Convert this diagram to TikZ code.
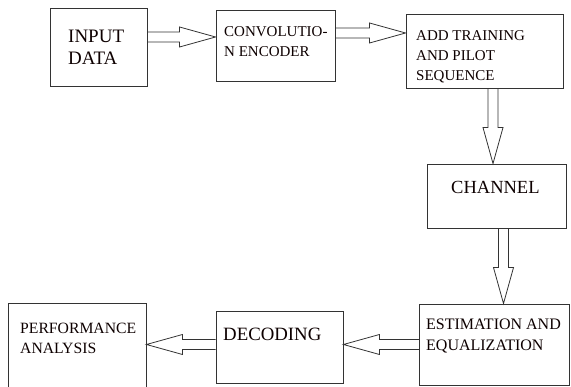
\documentclass[tikz,border=0pt]{standalone}
\usepackage{fontspec}
\setmainfont{Liberation Serif}
\usetikzlibrary{calc}

\newcommand{\shaftw}{5pt}
\newcommand{\headw}{10pt}
\newcommand{\headl}{36pt}

\begin{document}
\begin{tikzpicture}[
    x=1pt, y=-1pt,
    box/.style 2 args={draw=black!80, line width=0.9pt, inner sep=0pt, minimum width=#1, minimum height=#2},
    lbl/.style={anchor=base west, inner sep=0pt, align=left, text=black!95!red},
    hollow/.style={draw=black!80, line width=0.8pt, to path={
        ($(\tikztostart)!\shaftw!90:(\tikztotarget)$)
        -- ($(\tikztotarget)!\headl!(\tikztostart)!\shaftw!-90:(\tikztostart)$)
        -- ($(\tikztotarget)!\headl!(\tikztostart)!\headw!-90:(\tikztostart)$)
        -- (\tikztotarget)
        -- ($(\tikztotarget)!\headl!(\tikztostart)!\headw!90:(\tikztostart)$)
        -- ($(\tikztotarget)!\headl!(\tikztostart)!\shaftw!90:(\tikztostart)$)
        -- ($(\tikztostart)!\shaftw!-90:(\tikztotarget)$)}},
]
    \clip (0,0) rectangle (571,387);

    % Blocks
    \node[box={97pt}{78pt}] (input) at (98.5,47) {};
    \node[box={119pt}{71pt}] (conv) at (275.5,45.5) {};
    \node[box={157pt}{74pt}] (train) at (484.5,51) {};
    \node[box={139pt}{64pt}] (channel) at (496.5,196) {};
    \node[box={150pt}{81pt}] (estim) at (494.75,344.5) {};
    \node[box={127pt}{72pt}] (decod) at (279.5,347) {};
    \node[box={138pt}{92pt}] (perf) at (77,349) {};

    % Block texts (placed at the baseline of their last line)
    \node[lbl, font=\fontsize{19}{22}\selectfont] (inputtxt) at (68,65) {INPUT\\DATA};
    \node[lbl, font=\fontsize{15}{20}\selectfont] (convtxt) at (224,57) {CONVOLUTIO-\\N ENCODER};
    \node[lbl, font=\fontsize{15}{20}\selectfont] (traintxt) at (416,81) {ADD TRAINING\\AND PILOT\\SEQUENCE};
    \node[lbl, font=\fontsize{18.5}{22}\selectfont] (channeltxt) at (451,194) {CHANNEL};
    \node[lbl, font=\fontsize{16}{21}\selectfont] (estimtxt) at (426,351) {ESTIMATION AND\\EQUALIZATION};
    \node[lbl, font=\fontsize{18.8}{22}\selectfont] (decodtxt) at (223,341) {DECODING};
    \node[lbl, font=\fontsize{15.7}{20}\selectfont] (perftxt) at (20,354) {PERFORMANCE\\ANALYSIS};

    % Hollow arrows
    \draw[hollow] ([yshift=10pt]input.east) to ([yshift=8.5pt]conv.west);
    \draw[hollow] ([yshift=12.5pt]conv.east) to ([yshift=18pt]train.west);
    \draw[hollow] ([xshift=8.5pt]train.south) to ([xshift=-3.5pt]channel.north);
    \draw[hollow] ([xshift=7pt]channel.south) to ([xshift=8.75pt]estim.north);
    \draw[hollow] (estim.west) to ([yshift=2.5pt]decod.east);
    \draw[hollow] ([yshift=2.5pt]decod.west) to ([yshift=4.5pt]perf.east);
\end{tikzpicture}
\end{document}
